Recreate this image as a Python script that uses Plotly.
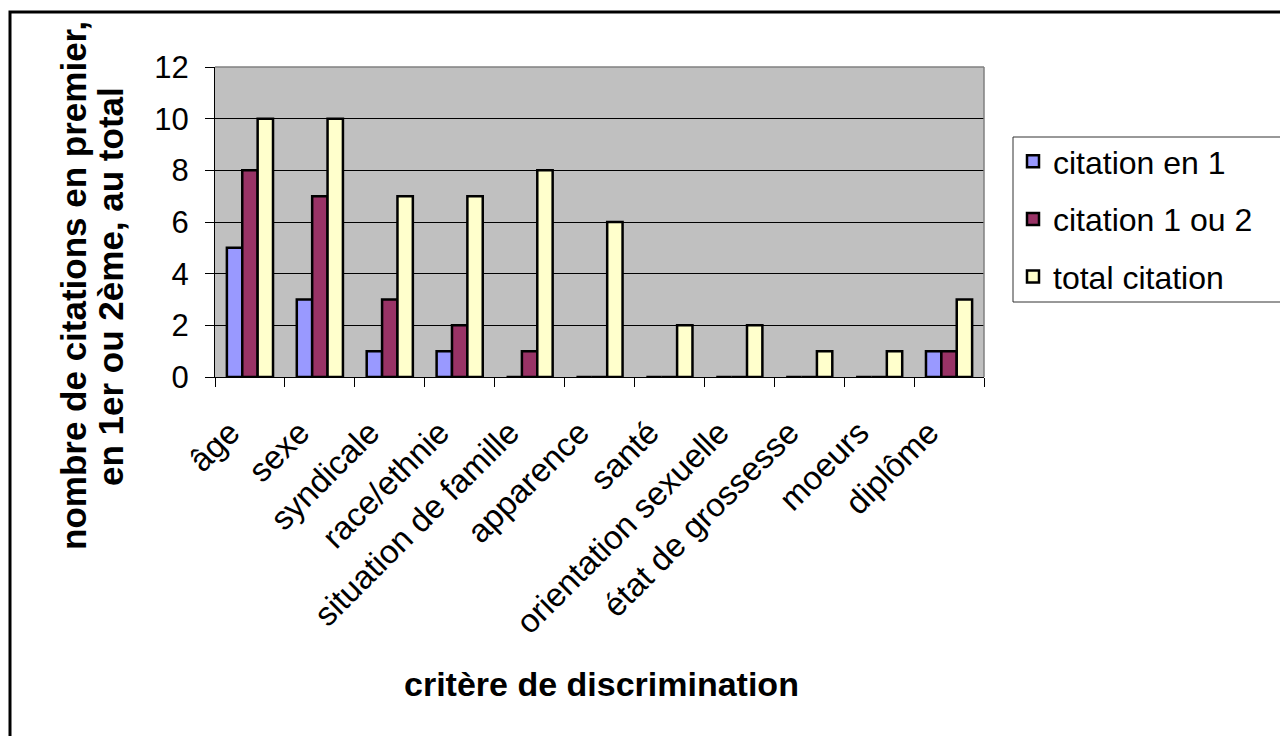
import plotly.graph_objects as go

# Critères de discrimination et nombre de citations
categories = ["âge", "sexe", "syndicale", "race/ethnie", "situation de famille",
              "apparence", "santé", "orientation sexuelle", "état de grossesse",
              "moeurs", "diplôme"]
citation_en_1 = [5, 3, 1, 1, 0, 0, 0, 0, 0, 0, 1]
citation_1_ou_2 = [8, 7, 3, 2, 1, 0, 0, 0, 0, 0, 1]
total_citation = [10, 10, 7, 7, 8, 6, 2, 2, 1, 1, 3]

series = [
    ("citation en 1", citation_en_1, "#9999FF"),
    ("citation 1 ou 2", citation_1_ou_2, "#993366"),
    ("total citation", total_citation, "#FFFFCC"),
]

FONT = "Arial, 'Liberation Sans', sans-serif"

# plot area in pixels
L, R, T, B = 215, 984, 67, 377
W, H = 1280, 736


def px_x(px):
    return (px - L) / (R - L)


def px_y(py):
    return (B - py) / (B - T)


fig = go.Figure()
for i, (name, vals, color) in enumerate(series):
    fig.add_trace(go.Bar(
        x=categories, y=vals, name=name, legendgroup=f"g{i}",
        marker=dict(color=color, line=dict(color="#000000", width=2.5)),
    ))

fig.update_layout(
    width=W, height=H,
    margin=dict(l=L, r=W - R, t=T, b=H - B, autoexpand=False),
    paper_bgcolor="white",
    plot_bgcolor="#C0C0C0",
    barmode="group",
    bargap=0.34,
    bargroupgap=0,
    font=dict(family=FONT, color="#000000", size=31),
    showlegend=True,
    legend=dict(
        x=px_x(1013), y=px_y(134), xanchor="left", yanchor="top",
        bgcolor="rgba(0,0,0,0)", borderwidth=0,
        font=dict(family=FONT, size=32, color="#000000"),
        traceorder="grouped", tracegroupgap=13,
        itemclick=False,
    ),
    xaxis=dict(
        type="category",
        tickangle=-45,
        ticks="outside", ticklen=9, tickcolor="#000000", tickwidth=1,
        tickson="boundaries",
        showline=True, linecolor="#000000", linewidth=1,
        showgrid=False, zeroline=False,
        ticklabelstandoff=22,
        ticklabelshift=-20,
        tickfont=dict(family=FONT, size=33),
    ),
    yaxis=dict(
        range=[0, 12],
        tickvals=[0, 2, 4, 6, 8, 10, 12],
        ticks="outside", ticklen=9, tickcolor="#000000", tickwidth=1,
        showline=True, linecolor="#000000", linewidth=1,
        showgrid=True, gridcolor="#000000", gridwidth=1,
        zeroline=False,
        ticklabelstandoff=10,
        tickfont=dict(family=FONT, size=31),
    ),
    shapes=[
        # legend frame, running past the right edge
        dict(type="rect", xref="paper", yref="paper",
             x0=px_x(1013), x1=px_x(W + 20), y0=px_y(137), y1=px_y(302),
             fillcolor="white", line=dict(color="#333333", width=1), layer="below"),
        # chart area frame
        dict(type="rect", xref="paper", yref="paper",
             x0=px_x(10), x1=px_x(W + 20), y0=px_y(12), y1=px_y(H + 20),
             line=dict(color="#000000", width=3), layer="above"),
        # grey plot-area border on top and right
        dict(type="line", xref="paper", yref="paper", x0=0, x1=1, y0=1, y1=1,
             line=dict(color="#808080", width=1.5), layer="above"),
        dict(type="line", xref="paper", yref="paper", x0=1, x1=1, y0=0, y1=1,
             line=dict(color="#808080", width=1.5), layer="above"),
    ],
    annotations=[
        dict(text="<b>critère de discrimination</b>", xref="paper", yref="paper",
             x=px_x(601), y=px_y(684), xanchor="center", yanchor="middle",
             showarrow=False, font=dict(family=FONT, size=34, color="#000000")),
        dict(text="<b>nombre de citations en premier,</b>", xref="paper", yref="paper",
             x=px_x(73), y=px_y(286), xanchor="center", yanchor="middle",
             textangle=-90, showarrow=False,
             font=dict(family=FONT, size=35, color="#000000")),
        dict(text="<b>en 1er ou 2ème, au total</b>", xref="paper", yref="paper",
             x=px_x(110), y=px_y(286), xanchor="center", yanchor="middle",
             textangle=-90, showarrow=False,
             font=dict(family=FONT, size=35, color="#000000")),
    ],
)

fig.write_html("out.html")
